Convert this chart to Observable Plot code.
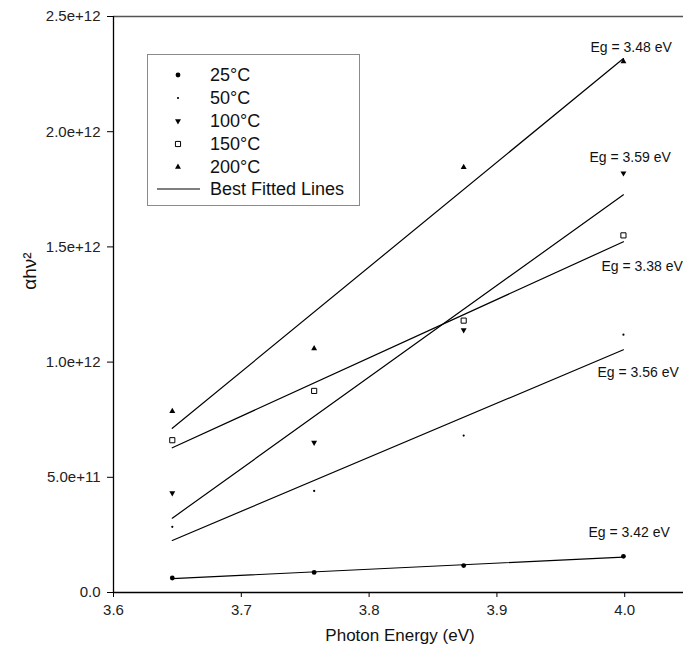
<!DOCTYPE html>
<html>
<head>
<meta charset="utf-8">
<script src="https://cdn.jsdelivr.net/npm/d3@7"></script>
<script src="https://cdn.jsdelivr.net/npm/@observablehq/plot@0.6"></script>
<style>
  body { margin: 0; background: #fff; }
  #wrap { position: relative; width: 683px; height: 652px; overflow: hidden; font-family: "Liberation Sans", Arial, sans-serif; }
  #legend { position: absolute; left: 147px; top: 54px; width: 213px; height: 152px; box-sizing: border-box; border: 1px solid #8a8a8a; background: #fff; }
  .lg-row { position: absolute; left: 0; height: 20px; display: flex; align-items: center; font-size: 18px; color: #111; }
  .lg-row svg { position: absolute; left: 0; top: 0; }
  .lg-row span { position: absolute; left: 62px; white-space: nowrap; line-height: 20px; top: 0; }
  #ylab { position: absolute; left: 30px; top: 271px; transform: translate(-50%, -50%) rotate(-90deg); font-size: 19px; white-space: nowrap; color: #111; }
  #xlab { position: absolute; left: 400px; top: 636px; transform: translate(-50%, -50%); font-size: 17px; white-space: nowrap; color: #111; }
</style>
</head>
<body>
<div id="wrap"></div>
<script>
// ---- data ----
const energy = [3.646, 3.757, 3.874, 3.999];
const t25  = [0.063e12, 0.087e12, 0.117e12, 0.157e12];
const t50  = [0.285e12, 0.441e12, 0.681e12, 1.119e12];
const t100 = [0.432e12, 0.651e12, 1.139e12, 1.820e12];
const t150 = [0.661e12, 0.875e12, 1.180e12, 1.550e12];
const t200 = [0.787e12, 1.059e12, 1.846e12, 2.305e12];
const seriesNames = ["25°C", "50°C", "100°C", "150°C", "200°C"];
const gapLabels = ["Eg = 3.42 eV", "Eg = 3.56 eV", "Eg = 3.59 eV", "Eg = 3.38 eV", "Eg = 3.48 eV"];
const fitLabel = "Best Fitted Lines";
const xTicks = [3.6, 3.7, 3.8, 3.9, 4.0];
const yTicks = [0, 0.5e12, 1.0e12, 1.5e12, 2.0e12, 2.5e12];
const xTitle = "Photon Energy (eV)";
const yTitle = "αhν²";

const seriesValues = [t25, t50, t100, t150, t200];
const rows = seriesValues.flatMap((vals, i) => vals.map((v, j) => ({series: seriesNames[i], x: energy[j], y: v})));
const bySeries = name => rows.filter(d => d.series === name);
const last = name => { const a = bySeries(name); return [a[a.length - 1]]; };

const font = "Liberation Sans, Arial, sans-serif";

// marker styles per series
const markerStyle = [
  {symbol: "circle", r: 2.4, fill: "black", stroke: "none"},
  {symbol: "circle", r: 1.1, fill: "black", stroke: "none"},
  {symbol: "triangle", r: 2.2, fill: "black", stroke: "none", rotate: 180},
  {symbol: "square", r: 2.9, fill: "white", stroke: "black", strokeWidth: 1},
  {symbol: "triangle", r: 2.2, fill: "black", stroke: "none"}
];
// label offsets relative to each series' last point
const labelOffsets = [
  {dx: -35, dy: -24},
  {dx: -26, dy: 38},
  {dx: -34, dy: -16},
  {dx: -22, dy: 31},
  {dx: -33, dy: -14}
];

const marks = [
  Plot.ruleY([2.5e12], {stroke: "#555", strokeWidth: 1.5}),
  Plot.ruleY([0], {stroke: "black", strokeWidth: 1.3}),
  Plot.ruleX([3.6], {stroke: "black", strokeWidth: 1.3}),
  Plot.axisX({ticks: xTicks, tickFormat: d3.format(".1f"), tickSize: 5, tickPadding: 7, fontSize: 15, fontFamily: font, fill: "#222", label: null}),
  Plot.axisY({ticks: yTicks, tickFormat: d => d === 0 ? "0.0" : d.toExponential(1), tickSize: 6, tickPadding: 7, fontSize: 15, fontFamily: font, fill: "#222", label: null})
];

seriesNames.forEach((name, i) => {
  marks.push(Plot.linearRegressionY(bySeries(name), {x: "x", y: "y", ci: 0, stroke: "black", strokeWidth: 1.2}));
});
seriesNames.forEach((name, i) => {
  marks.push(Plot.dot(bySeries(name), {x: "x", y: "y", ...markerStyle[i]}));
});
seriesNames.forEach((name, i) => {
  marks.push(Plot.text(last(name), {x: "x", y: "y", text: () => gapLabels[i], textAnchor: "start", lineAnchor: "middle",
    dx: labelOffsets[i].dx, dy: labelOffsets[i].dy, fontSize: 14, fontFamily: font, fill: "#111"}));
});

const chart = Plot.plot({
  width: 683,
  height: 652,
  marginLeft: 113,
  marginRight: 0,
  marginTop: 16,
  marginBottom: 60,
  style: {fontFamily: font, background: "white", overflow: "hidden"},
  x: {domain: [3.6, 4.046]},
  y: {domain: [0, 2.5e12]},
  marks
});

const wrap = document.getElementById("wrap");
wrap.appendChild(chart);

// axis titles
const yl = document.createElement("div"); yl.id = "ylab"; yl.textContent = yTitle; wrap.appendChild(yl);
const xl = document.createElement("div"); xl.id = "xlab"; xl.textContent = xTitle; wrap.appendChild(xl);

// legend
const legend = document.createElement("div"); legend.id = "legend"; wrap.appendChild(legend);
const rowTop = [74.3, 97.1, 119.9, 142.7, 165.5, 188.3].map(v => v - 54 - 10);
seriesNames.forEach((name, i) => {
  const row = document.createElement("div"); row.className = "lg-row"; row.style.top = rowTop[i] + "px";
  const st = markerStyle[i];
  const s = d3.select(row).append("svg").attr("width", 60).attr("height", 20);
  const symType = {circle: d3.symbolCircle, triangle: d3.symbolTriangle, square: d3.symbolSquare}[st.symbol];
  s.append("path")
    .attr("d", d3.symbol(symType, Math.PI * st.r * st.r)())
    .attr("transform", `translate(30,10) rotate(${st.rotate || 0})`)
    .attr("fill", st.fill).attr("stroke", st.stroke).attr("stroke-width", st.strokeWidth || 0);
  const sp = document.createElement("span"); sp.textContent = name; row.appendChild(sp);
  legend.appendChild(row);
});
{
  const row = document.createElement("div"); row.className = "lg-row"; row.style.top = rowTop[5] + "px";
  const s = d3.select(row).append("svg").attr("width", 60).attr("height", 20);
  s.append("line").attr("x1", 9).attr("x2", 52).attr("y1", 10).attr("y2", 10).attr("stroke", "black").attr("stroke-width", 1.2);
  const sp = document.createElement("span"); sp.textContent = fitLabel; row.appendChild(sp);
  legend.appendChild(row);
}
</script>
</body>
</html>
